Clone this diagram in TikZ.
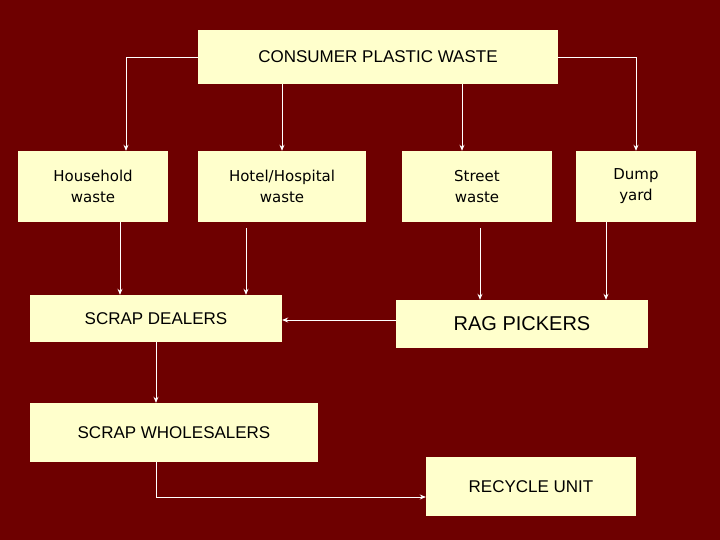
\documentclass[tikz,border=0pt]{standalone}
\usetikzlibrary{arrows.meta}
\usepackage{fontspec}
\setmainfont{Liberation Sans}
\newfontfamily\tah{DejaVu Sans}
\definecolor{bg}{HTML}{6E0000}
\definecolor{bx}{HTML}{FFFFCC}
\begin{document}
\begin{tikzpicture}[x=1pt,y=-1pt,
  box/.style={fill=bx,draw=none,inner sep=0pt,align=center},
  ln/.style={draw=white,line width=0.8pt},
  ar/.style={ln,-{Stealth[length=6pt,width=5pt]}}]
\fill[bg] (0,0) rectangle (720,540);
\useasboundingbox (0,0) rectangle (720,540);
\node[box,minimum width=360,minimum height=54,font=\fontsize{17}{20}\selectfont] (c) at (378,57) {CONSUMER PLASTIC WASTE};
\node[box,minimum width=150,minimum height=71,font=\tah\fontsize{15}{21}\selectfont] (h) at (93,186.5) {Household\\waste};
\node[box,minimum width=168,minimum height=71,font=\tah\fontsize{15}{21}\selectfont] (ho) at (282,186.5) {Hotel/Hospital\\waste};
\node[box,minimum width=150,minimum height=71,font=\tah\fontsize{15}{21}\selectfont] (s) at (477,186.5) {Street\\waste};
\node[box,minimum width=120,minimum height=71,font=\tah\fontsize{15}{21}\selectfont] (d) at (636,186.5) {Dump\\yard};
\node[box,minimum width=252,minimum height=47,font=\fontsize{17}{20}\selectfont] (sd) at (156,318.5) {SCRAP DEALERS};
\node[box,minimum width=252,minimum height=48,font=\fontsize{20}{24}\selectfont] (rp) at (522,324) {RAG PICKERS};
\node[box,minimum width=288,minimum height=59,font=\fontsize{17}{20}\selectfont] (sw) at (174,432.5) {SCRAP WHOLESALERS};
\node[box,minimum width=210,minimum height=59,font=\fontsize{17}{20}\selectfont] (ru) at (531,486.5) {RECYCLE UNIT};
\draw[ar] (c.west) -| (h.north -| 126,0);
\draw[ar] (c.south -| 282,0) -- (ho.north -| 282,0);
\draw[ar] (c.south -| 462,0) -- (s.north -| 462,0);
\draw[ar] (c.east) -| (d.north);
\draw[ar] (h.south -| 120,0) -- (sd.north -| 120,0);
\draw[ar] (246,228) -- (sd.north -| 246,0);
\draw[ar] (480,228) -- (rp.north -| 480,0);
\draw[ar] (606,222) -- (rp.north -| 606,0);
\draw[ar] (rp.west |- 0,320) -- (sd.east |- 0,320);
\draw[ar] (sd.south -| 156,0) -- (sw.north -| 156,0);
\draw[ar] (sw.south -| 156,0) |- (ru.west |- 0,497);
\end{tikzpicture}
\end{document}
